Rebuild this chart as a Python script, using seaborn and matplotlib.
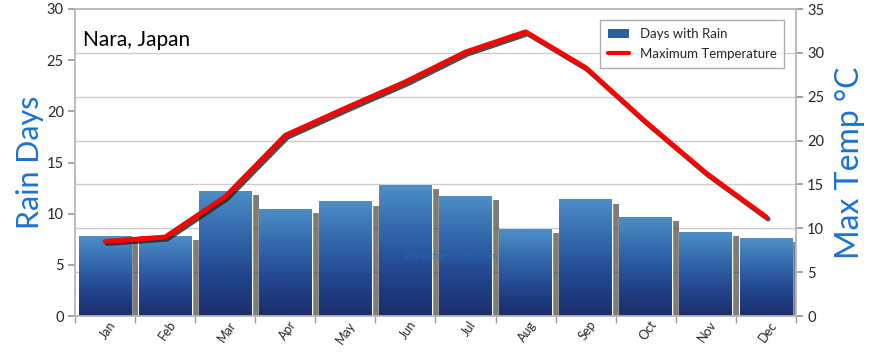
import numpy as np
import pandas as pd
import matplotlib
matplotlib.use("Agg")
import matplotlib.pyplot as plt
import matplotlib.patheffects as pe
import matplotlib.transforms as mtransforms
from matplotlib.ticker import FixedLocator, MultipleLocator
from matplotlib.colors import LinearSegmentedColormap
from matplotlib.patches import Patch
from matplotlib.lines import Line2D
import seaborn as sns

months = ["Jan", "Feb", "Mar", "Apr", "May", "Jun", "Jul", "Aug", "Sep", "Oct", "Nov", "Dec"]
rain_days = [7.8, 7.8, 12.25, 10.5, 11.2, 12.8, 11.75, 8.5, 11.4, 9.7, 8.2, 7.6]
max_temp = [8.5, 9.0, 13.6, 20.6, 23.7, 26.7, 30.1, 32.4, 28.3, 22.1, 16.3, 11.3]

sns.set_theme(style="white")
plt.rcParams['font.family'] = ['Lato', 'DejaVu Sans']

fig = plt.figure(figsize=(8.7, 3.52), dpi=100)
ax = fig.add_axes([75/870, 1-316/352, (796-75)/870, (316-9)/352])

df = pd.DataFrame({"month": months, "rain": rain_days, "temp": max_temp})
sns.barplot(data=df, x="month", y="rain", ax=ax, color="#2d5ea3", width=0.88,
            saturation=1, zorder=3)

cmap = LinearSegmentedColormap.from_list("blu", ["#1b2d6b", "#22468f", "#3369ad", "#4e8fc7"])
grad = np.linspace(0, 1, 256).reshape(-1, 1)
for p in ax.patches:
    p.set_path_effects([pe.SimplePatchShadow(offset=(5, -3), shadow_rgbFace="#444444", alpha=0.7),
                        pe.Normal()])
    x0, w, h = p.get_x(), p.get_width(), p.get_height()
    im = ax.imshow(grad, extent=[x0, x0 + w, 0, h], origin="lower", cmap=cmap,
                   aspect="auto", zorder=4)
    im.set_clip_path(p)

ax.set_xlim(-0.5, 11.5)
ax.set_ylim(0, 30)
ax.yaxis.set_major_locator(MultipleLocator(5))
ax.yaxis.set_minor_locator(FixedLocator([v * 30 / 35 for v in range(5, 35, 5)]))
ax.grid(which="minor", axis="y", color="#cccccc", lw=1, zorder=0)
ax.grid(which="major", visible=False)
ax.tick_params(axis="y", which="minor", length=0)
ax.tick_params(axis="y", which="major", length=5, color="#999999", labelsize=10.5, pad=3, left=True)
ax.set_xticks(range(12))
ax.set_xticklabels(months, rotation=55, ha="right", rotation_mode="anchor", fontsize=9)
ax.tick_params(axis="x", which="major", length=0, pad=2)
ax.xaxis.set_minor_locator(FixedLocator(np.arange(-0.5, 12, 1)))
ax.tick_params(axis="x", which="minor", length=5, color="#999999", bottom=True)
shift = mtransforms.ScaledTranslation(3/100, 0, fig.dpi_scale_trans)
for lbl in ax.get_xticklabels():
    lbl.set_transform(lbl.get_transform() + shift)
for s in ax.spines.values():
    s.set_color("#bbbbbb")
ax.set_xlabel("")
ax.set_ylabel("Rain Days", color="#1a72d2", fontsize=22, labelpad=2)

ax.text(0.011, 0.93, "Nara, Japan", transform=ax.transAxes, fontsize=15,
        va="top", ha="left", color="black")
ax.text(0.52, 0.195, "©Weather-Guide.com", transform=ax.transAxes, fontsize=7,
        color="#1a72d2", alpha=0.55, ha="center", va="center", zorder=6)

ax2 = ax.twinx()
sns.lineplot(x=np.arange(12), y=max_temp, ax=ax2, color="#ff0000", lw=3.5, sort=False,
             path_effects=[pe.SimpleLineShadow(offset=(1.5, -1.5), shadow_color="#222222", alpha=0.8),
                           pe.Normal()], zorder=5)
ax2.set_ylim(0, 35)
ax2.set_xlim(-0.5, 11.5)
ax2.yaxis.set_major_locator(MultipleLocator(5))
ax2.tick_params(axis="y", length=5, color="#999999", labelsize=10.5, pad=3, right=True)
ax2.grid(False)
for s in ax2.spines.values():
    s.set_color("#bbbbbb")
ax2.set_ylabel("Max Temp °C", color="#1a72d2", fontsize=23, labelpad=8)

handles = [Patch(facecolor="#2d5ea3", edgecolor="none"),
           Line2D([0], [0], color="#ff0000", lw=3)]
leg = ax2.legend(handles, ["Days with Rain", "Maximum Temperature"], loc="upper right",
                 bbox_to_anchor=(0.993, 0.985), fontsize=9.5, frameon=True, fancybox=False,
                 handlelength=1.6, borderpad=0.6, labelspacing=0.6)
leg.get_frame().set_edgecolor("#999999")
leg.get_frame().set_linewidth(1)

fig.savefig("out.png", dpi=100)
